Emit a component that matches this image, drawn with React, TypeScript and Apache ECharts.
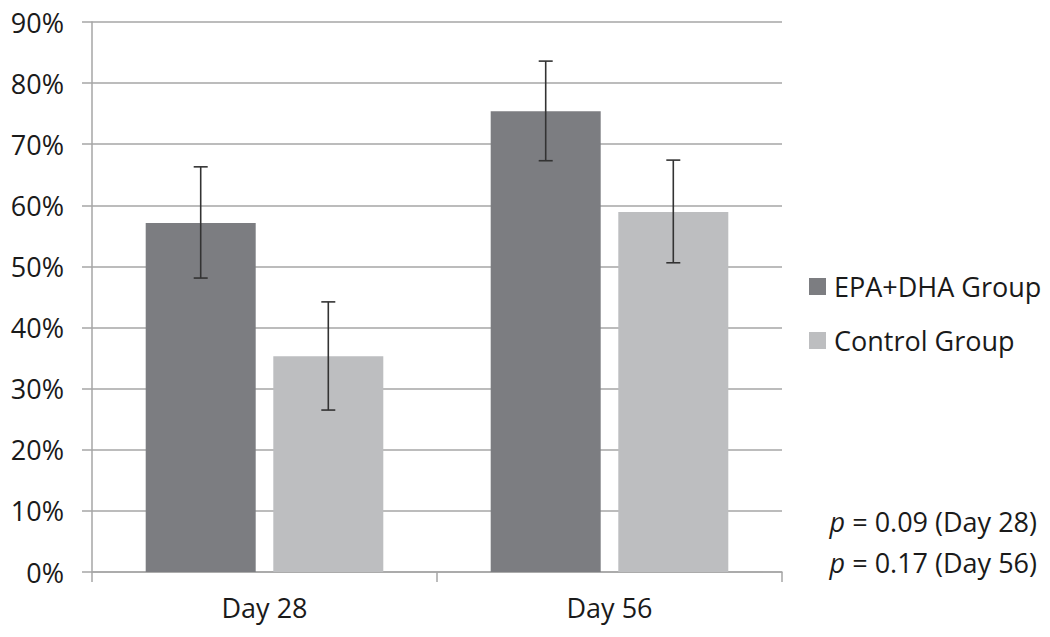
import React, { useEffect, useRef } from "react";
import * as echarts from "echarts";

const categories = ["Day 28", "Day 56"];
const seriesNames = ["EPA+DHA Group", "Control Group"];
const epaValues = [57.1, 75.4];
const epaLower = [48.1, 67.3];
const epaUpper = [66.3, 83.6];
const controlValues = [35.3, 58.9];
const controlLower = [26.5, 50.6];
const controlUpper = [44.2, 67.4];
const yTicks = [0, 10, 20, 30, 40, 50, 60, 70, 80, 90];
const pLines = ["0.09 (Day 28)", "0.17 (Day 56)"];

const FONT = "'Open Sans', 'Liberation Sans', sans-serif";
const FS = 27;
const BAR_W = 110;
const BAR_GAP = 0.16;

function errorSeries(lower: number[], upper: number[], side: number) {
  return {
    type: "custom",
    silent: true,
    z: 10,
    data: lower.map((l, i) => [i, l, upper[i]]),
    renderItem: (params: any, api: any) => {
      const idx = api.value(0);
      const lo = api.coord([idx, api.value(1)]);
      const hi = api.coord([idx, api.value(2)]);
      const x = lo[0] + side * (BAR_W * (1 + BAR_GAP)) / 2;
      const cap = 7;
      const style = { stroke: "#333333", lineWidth: 1.6, fill: "none" };
      return {
        type: "group",
        children: [
          { type: "line", shape: { x1: x, y1: lo[1], x2: x, y2: hi[1] }, style },
          { type: "line", shape: { x1: x - cap, y1: lo[1], x2: x + cap, y2: lo[1] }, style },
          { type: "line", shape: { x1: x - cap, y1: hi[1], x2: x + cap, y2: hi[1] }, style },
        ],
      };
    },
  };
}

export default function App() {
  const ref = useRef<HTMLDivElement>(null);
  useEffect(() => {
    if (!ref.current) return;
    const chart = echarts.init(ref.current, undefined, { renderer: "svg" });
    chart.setOption({
      animation: false,
      backgroundColor: "#ffffff",
      grid: { left: 92, right: 268, top: 22, bottom: 65, containLabel: false },
      legend: {
        orient: "vertical",
        left: 809,
        top: 273,
        padding: 0,
        itemWidth: 17,
        itemHeight: 17,
        itemGap: 27,
        icon: "rect",
        data: seriesNames,
        textStyle: { fontFamily: FONT, fontSize: FS, color: "#1a1a1a", padding: [0, 0, 0, 3] },
      },
      xAxis: {
        type: "category",
        data: categories,
        axisLine: { show: true, lineStyle: { color: "#a6a6a6", width: 1.5 } },
        axisTick: { show: true, length: 10, lineStyle: { color: "#a6a6a6", width: 1.5 } },
        axisLabel: { fontFamily: FONT, fontSize: FS, color: "#1a1a1a", margin: 22 },
      },
      yAxis: {
        type: "value",
        min: yTicks[0],
        max: yTicks[yTicks.length - 1],
        interval: 10,
        axisLine: { show: true, lineStyle: { color: "#a6a6a6", width: 1.5 } },
        axisTick: { show: true, length: 10, lineStyle: { color: "#a6a6a6", width: 1.5 } },
        splitLine: { show: true, lineStyle: { color: "#a6a6a6", width: 1.5 } },
        axisLabel: {
          fontFamily: FONT,
          fontSize: FS,
          color: "#1a1a1a",
          margin: 28,
          formatter: "{value}%",
        },
      },
      series: [
        {
          name: seriesNames[0],
          type: "bar",
          data: epaValues,
          barWidth: BAR_W,
          barGap: BAR_GAP * 100 + "%",
          itemStyle: { color: "#7c7d81" },
        },
        {
          name: seriesNames[1],
          type: "bar",
          data: controlValues,
          barWidth: BAR_W,
          barGap: BAR_GAP * 100 + "%",
          itemStyle: { color: "#bdbec0" },
        },
        errorSeries(epaLower, epaUpper, -1),
        errorSeries(controlLower, controlUpper, 1),
      ],
      graphic: pLines.map((t, i) => ({
        type: "text",
        right: 13,
        top: 508 + i * 41,
        style: {
          text: "{i|p} = " + t,
          rich: {
            i: { fontStyle: "italic", fontFamily: FONT, fontSize: FS, fill: "#1a1a1a" },
          },
          font: FS + "px " + FONT,
          fontFamily: FONT,
          fontSize: FS,
          fill: "#1a1a1a",
        },
      })),
    });
    return () => chart.dispose();
  }, []);
  return <div ref={ref} style={{ width: 1050, height: 637, position: "absolute", left: 0, top: 0 }} />;
}
